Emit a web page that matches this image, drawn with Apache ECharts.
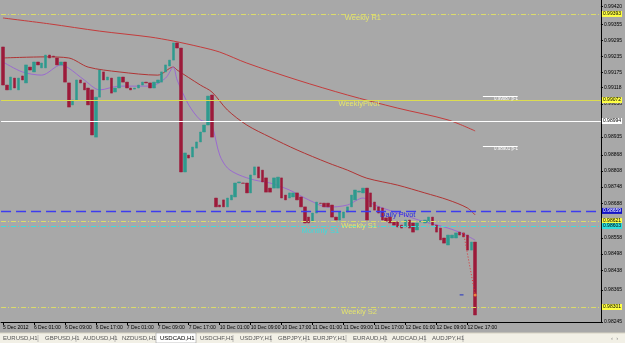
<!DOCTYPE html>
<html><head><meta charset="utf-8">
<script src="https://cdn.jsdelivr.net/npm/echarts@6/dist/echarts.min.js"></script>
<style>html,body{margin:0;padding:0;background:#A8A8A8;overflow:hidden}#c{width:625px;height:343px}</style>
</head><body><div id="c"></div>
<script>
// ---- data (USDCAD, H1) ----
const dayNames = ["5 Dec","6 Dec","7 Dec","10 Dec","11 Dec","12 Dec","13 Dec","14 Dec"];
const firstHour = 17;
const categoryCount = 155;
const openP = [0.99270,0.99128,0.99110,0.99154,0.99110,0.99162,0.99136,0.99195,0.99177,0.99214,
0.99192,0.99192,0.99240,0.99236,0.99229,0.99203,0.99214,0.99136,0.99054,0.99072,
0.99147,0.99136,0.99117,0.99110,0.98934,0.99083,0.99177,0.99147,0.99154,0.99102,
0.99117,0.99158,0.99139,0.99117,0.99113,0.99117,0.99128,0.99139,0.99136,0.99117,
0.99136,0.99139,0.99177,0.99199,0.99221,0.99285,0.99266,0.98804,0.98867,0.98860,
0.98893,0.98916,0.98953,0.98979,0.99091,0.98707,0.98681,0.98700,0.98674,0.98700,
0.98711,0.98763,0.98763,0.98763,0.98726,0.98793,0.98823,0.98811,0.98782,0.98744,
0.98744,0.98744,0.98782,0.98718,0.98707,0.98711,0.98726,0.98711,0.98674,0.98636,
0.98618,0.98651,0.98688,0.98688,0.98688,0.98681,0.98636,0.98625,0.98633,0.98655,
0.98674,0.98700,0.98729,0.98726,0.98744,0.98726,0.98692,0.98674,0.98670,0.98633,
0.98636,0.98618,0.98618,0.98606,0.98599,0.98625,0.98614,0.98588,0.98618,0.98614,
0.98618,0.98636,0.98606,0.98595,0.98558,0.98532,0.98558,0.98558,0.98580,0.98577,
0.98569,0.98513,0.98543];
const closeP = [0.99128,0.99110,0.99158,0.99117,0.99154,0.99147,0.99203,0.99184,0.99214,0.99203,
0.99210,0.99240,0.99229,0.99233,0.99203,0.99214,0.99139,0.99046,0.99072,0.99147,
0.99136,0.99110,0.99054,0.98942,0.99083,0.99184,0.99147,0.99158,0.99098,0.99117,
0.99158,0.99139,0.99117,0.99110,0.99117,0.99128,0.99139,0.99136,0.99117,0.99139,
0.99147,0.99177,0.99203,0.99221,0.99285,0.99266,0.98804,0.98875,0.98856,0.98897,
0.98916,0.98953,0.98979,0.99087,0.98934,0.98674,0.98674,0.98674,0.98707,0.98718,
0.98763,0.98767,0.98762,0.98726,0.98793,0.98823,0.98782,0.98767,0.98729,0.98729,
0.98782,0.98785,0.98707,0.98700,0.98726,0.98726,0.98700,0.98674,0.98614,0.98614,
0.98651,0.98692,0.98687,0.98674,0.98674,0.98636,0.98625,0.98655,0.98655,0.98674,
0.98718,0.98737,0.98733,0.98744,0.98625,0.98674,0.98662,0.98651,0.98625,0.98621,
0.98614,0.98606,0.98599,0.98595,0.98625,0.98595,0.98580,0.98614,0.98621,0.98625,
0.98636,0.98606,0.98580,0.98551,0.98539,0.98569,0.98569,0.98577,0.98569,0.98562,
0.98513,0.98543,0.98271];
const highP = [0.99315,0.99147,0.99165,0.99162,0.99162,0.99177,0.99221,0.99206,0.99229,0.99229,
0.99221,0.99266,0.99259,0.99251,0.99251,0.99251,0.99247,0.99147,0.99080,0.99165,
0.99165,0.99147,0.99128,0.99117,0.99091,0.99192,0.99184,0.99165,0.99162,0.99124,
0.99173,0.99165,0.99147,0.99124,0.99124,0.99136,0.99147,0.99147,0.99143,0.99147,
0.99154,0.99184,0.99214,0.99240,0.99326,0.99333,0.99277,0.98905,0.98886,0.98949,
0.98931,0.98968,0.98990,0.99098,0.99098,0.98726,0.98700,0.98707,0.98715,0.98726,
0.98793,0.98774,0.98782,0.98800,0.98804,0.98867,0.98875,0.98830,0.98789,0.98752,
0.98789,0.98849,0.98789,0.98726,0.98733,0.98733,0.98733,0.98718,0.98681,0.98644,
0.98659,0.98700,0.98700,0.98696,0.98696,0.98688,0.98644,0.98662,0.98662,0.98793,
0.98800,0.98744,0.98744,0.98756,0.98752,0.98733,0.98700,0.98681,0.98677,0.98640,
0.98644,0.98625,0.98625,0.98614,0.98633,0.98633,0.98621,0.98621,0.98629,0.98633,
0.98644,0.98644,0.98614,0.98603,0.98565,0.98577,0.98577,0.98618,0.98618,0.98584,
0.98577,0.98569,0.98551];
const lowP = [0.99117,0.99102,0.99102,0.99110,0.99080,0.99132,0.99128,0.99173,0.99169,0.99195,
0.99184,0.99184,0.99221,0.99221,0.99195,0.99195,0.99136,0.99042,0.99042,0.99065,
0.99124,0.99102,0.99016,0.98923,0.98923,0.99076,0.99139,0.99139,0.99091,0.99095,
0.98979,0.99132,0.99110,0.99102,0.99106,0.99110,0.99121,0.99128,0.99110,0.99110,
0.99128,0.99132,0.99169,0.99192,0.99214,0.99259,0.98763,0.98763,0.98841,0.98823,
0.98886,0.98905,0.98942,0.98972,0.98856,0.98644,0.98666,0.98666,0.98666,0.98692,
0.98703,0.98756,0.98756,0.98718,0.98718,0.98718,0.98774,0.98759,0.98722,0.98722,
0.98737,0.98662,0.98700,0.98692,0.98700,0.98703,0.98692,0.98666,0.98599,0.98606,
0.98610,0.98644,0.98677,0.98666,0.98666,0.98629,0.98618,0.98618,0.98625,0.98647,
0.98666,0.98692,0.98722,0.98718,0.98577,0.98666,0.98655,0.98644,0.98618,0.98614,
0.98606,0.98599,0.98592,0.98588,0.98592,0.98588,0.98573,0.98580,0.98614,0.98606,
0.98610,0.98599,0.98573,0.98543,0.98532,0.98524,0.98551,0.98551,0.98562,0.98554,
0.98506,0.98506,0.98260];
// moving averages: vertices [bar index, price]
const maSlow = [[0,0.99378],[12,0.99356],[25,0.99329],[38,0.99307],[44,0.99292],[51,0.99270],[56,0.99251],[63,0.99210],[76,0.99147],[89,0.99091],[102,0.99042],[115,0.98998],[122,0.98957]];
const maMid = [[0,0.99229],[11,0.99233],[17,0.99229],[22,0.99195],[30,0.99177],[40,0.99165],[44,0.99195],[45,0.99184],[51,0.99128],[54,0.99102],[58,0.99035],[63,0.98979],[69,0.98934],[76,0.98886],[84,0.98838],[89,0.98811],[94,0.98781],[102,0.98755],[109,0.98726],[115,0.98700],[120,0.98670],[122,0.98644]];
const maFast = [[0,0.99214],[5,0.99177],[10,0.99165],[15,0.99203],[17,0.99191],[21,0.99147],[25,0.99110],[30,0.99124],[38,0.99124],[42,0.99154],[44,0.99195],[45,0.99147],[48,0.99054],[51,0.98998],[53,0.98990],[54,0.98979],[56,0.98867],[58,0.98819],[61,0.98793],[65,0.98774],[69,0.98763],[74,0.98737],[79,0.98700],[84,0.98673],[89,0.98681],[93,0.98707],[96,0.98681],[102,0.98651],[109,0.98618],[115,0.98595],[119,0.98573],[122,0.98550]];
const tradeLine = [[119,0.98577],[122,0.98346]];
const orderDash = [[118,0.98346],[119,0.98346]];
// levels
const weeklyR1 = 0.99393, weeklyPivot = 0.99072, whiteLevel = 0.98994, dailyPivot = 0.98659,
      weeklyS1 = 0.98621, monthlyS1 = 0.98603, weeklyS2 = 0.98301, lastPrice = 0.98271;
const noteLevels = [0.99087, 0.98901];
const noteTexts = ["0.99087 p-1", "0.98901 p-1"];
// axis
const yMin = 0.98245, yMax = 0.99445;
const yTickLabels = [0.99420,0.99355,0.99295,0.99235,0.99175,0.99118,0.99058,0.98995,0.98935,0.98868,0.98808,0.98748,0.98688,0.98558,0.98498,0.98438,0.98365,0.98245];
const timeLabelEvery = 8, lastTimeLabel = 120;
const tabs = ["EURUSD,H1","GBPUSD,H1","AUDUSD,H1","NZDUSD,H1","USDCAD,H1","USDCHF,H1","USDJPY,H1","GBPJPY,H1","EURJPY,H1","EURAUD,H1","AUDCAD,H1","AUDJPY,H1"];
const tabX = [3,45,83,122,160,200,240,278,313,353,392,432];
const activeTab = 4;

// ---- build ----
const categories = [];
{ let d = 0, h = firstHour;
  for (let k = 0; k < categoryCount; k++) {
    categories.push(dayNames[d] + " " + String(h).padStart(2, "0") + ":00");
    h++; if (h === 24) { h = 0; d++; }
  } }
const bodies = openP.map((o, i) => [o, closeP[i], Math.min(o, closeP[i]), Math.max(o, closeP[i])]);
const wicks = openP.map((o, i) => [lowP[i], highP[i], lowP[i], highP[i]]);
const FONT = "Liberation Sans";
function tag(bg, fg) {
  return { show: true, position: "end", distance: 1, formatter: p => Number(p.value).toFixed(5),
    backgroundColor: bg, color: fg, fontSize: 5, fontFamily: FONT, padding: [1, 1, 0, 1] };
}
const DASHDOT = [5, 2, 1, 2];
const chart = echarts.init(document.getElementById("c"), null, { renderer: "canvas" });
const tickShow = (i) => i % timeLabelEvery === 0 && i <= lastTimeLabel;
function note(i, p, text, color, size) {
  return { coord: [i, p], symbol: "rect", symbolSize: 1, itemStyle: { color: "rgba(0,0,0,0)" },
    label: { show: true, position: "inside", formatter: text, color: color, fontSize: size || 7.5, fontFamily: FONT } };
}
const levelLines = [
  { yAxis: weeklyR1, lineStyle: { color: "#DCDC6A", type: DASHDOT, width: 1 }, label: tag("#FFFF44", "#000") },
  { yAxis: weeklyPivot, lineStyle: { color: "#DCDC50", type: "solid", width: 1 }, label: tag("#FFFF44", "#000") },
  { yAxis: whiteLevel, lineStyle: { color: "#FFFFFF", type: "solid", width: 1 }, label: tag("#FFFFFF", "#000") },
  { yAxis: dailyPivot, lineStyle: { color: "#3C3CF0", type: [10, 5], width: 1.3, opacity: 1 }, label: tag("#1414C8", "#FFF") },
  { yAxis: weeklyS1, lineStyle: { color: "#DCDC6A", type: DASHDOT, width: 1 }, label: tag("#FFFF44", "#000") },
  { yAxis: monthlyS1, lineStyle: { color: "#40DCDC", type: DASHDOT, width: 1 }, label: tag("#30E0E0", "#000") },
  { yAxis: weeklyS2, lineStyle: { color: "#DCDC6A", type: DASHDOT, width: 1 }, label: tag("#FFFF44", "#000") },
  { yAxis: lastPrice, lineStyle: { color: "#000", width: 0, opacity: 0 }, label: tag("#000000", "#FFF") },
  [ { coord: [124, noteLevels[0]], lineStyle: { color: "#FFF", width: 1, type: "solid" }, label: { show: false } }, { coord: [133, noteLevels[0]] } ],
  [ { coord: [124, noteLevels[1]], lineStyle: { color: "#FFF", width: 1, type: "solid" }, label: { show: false } }, { coord: [133, noteLevels[1]] } ]
];
chart.setOption({
  animation: false,
  backgroundColor: "#A8A8A8",
  grid: { left: 0, right: 19, top: 0, bottom: 21 },
  xAxis: {
    type: "category", data: categories, boundaryGap: true,
    axisLine: { show: true, lineStyle: { color: "#000", width: 1 } },
    axisTick: { show: true, interval: (i) => tickShow(i), alignWithLabel: true, length: 3, lineStyle: { color: "#000" } },
    axisLabel: { interval: (i) => tickShow(i), align: "left", margin: 3, fontSize: 5, fontFamily: FONT, color: "#000",
      formatter: (v, i) => i === 0 ? "5 Dec 2012" : v },
    splitLine: { show: false }
  },
  yAxis: {
    type: "value", position: "right", min: yMin, max: yMax, scale: true,
    axisLine: { show: true, lineStyle: { color: "#000", width: 1 } },
    axisTick: { show: true, customValues: yTickLabels, length: 2, lineStyle: { color: "#000" } },
    axisLabel: { customValues: yTickLabels, formatter: v => v.toFixed(5), fontSize: 5, fontFamily: FONT, color: "#000", margin: 3 },
    splitLine: { show: false }
  },
  series: [
    { type: "line", data: maSlow, symbol: "none", smooth: 0.3, lineStyle: { color: "#C43C3C", width: 1 }, z: 2,
      markLine: { silent: true, symbol: ["none", "none"], animation: false, precision: 5, data: levelLines },
      markPoint: {
        silent: true, animation: false,
        data: [
          note(92.8, 0.99378, "Weekly R1", "#E4E46E"),
          note(91.8, 0.99057, "WeeklyPivot", "#E4E46E"),
          note(102, 0.98644, "Daily Pivot", "#2A2AE0"),
          note(91.6, 0.98603, "Weekly S1", "#E4E46E"),
          note(81.6, 0.98584, "Monthly S1", "#3CDCDC"),
          note(91.8, 0.98282, "Weekly S2", "#E4E46E"),
          note(130, noteLevels[0] - 0.0001, noteTexts[0], "#FFF", 4.5),
          note(130, noteLevels[1] - 0.0001, noteTexts[1], "#FFF", 4.5)
        ]
      }
    },
    { type: "line", data: maMid, symbol: "none", smooth: 0.3, lineStyle: { color: "#B03434", width: 1 }, z: 2 },
    { type: "line", data: maFast, symbol: "none", smooth: 0.3, lineStyle: { color: "#9A6AD0", width: 1 }, z: 2 },
    { type: "candlestick", data: wicks, barWidth: 1, z: 3,
      itemStyle: { color: "#383838", color0: "#383838", borderColor: "#383838", borderColor0: "#383838", borderWidth: 0 } },
    { type: "candlestick", data: bodies, barWidth: 3, z: 4,
      itemStyle: { color: "#2E9A8E", color0: "#9C1A3A", borderColor: "#2E9A8E", borderColor0: "#9C1A3A", borderWidth: 0.5 } },
    { type: "line", data: tradeLine, symbol: "none", lineStyle: { color: "#E03030", width: 1, type: [1, 2] }, z: 5 },
    { type: "scatter", data: [tradeLine[1]], symbol: "circle", symbolSize: 3, itemStyle: { color: "#FFA040" }, z: 6 },
    { type: "line", data: orderDash, symbol: "none", lineStyle: { color: "#2030C0", width: 1 }, z: 5 }
  ],
  graphic: [
    { type: "rect", shape: { x: 0, y: 333, width: 625, height: 10 }, style: { fill: "#F2F0E6" }, z: 10 },
    { type: "line", shape: { x1: 0, y1: 333, x2: 625, y2: 333 }, style: { stroke: "#D8D4C4", lineWidth: 1 }, z: 11 },
    { type: "rect", shape: { x: 156, y: 333, width: 40, height: 10 }, style: { fill: "#FFFFFF", stroke: "#888", lineWidth: 0.5 }, z: 11 }
  ].concat(tabs.map((t, k) => ({ type: "text", x: tabX[k], y: 335, z: 12,
      style: { text: t, fontSize: 6, fontFamily: FONT, fill: k === activeTab ? "#000" : "#555" } })))
   .concat(tabX.slice(1).map((x, k) => (k + 1 === activeTab || k + 1 === activeTab + 1) ? null :
      ({ type: "line", shape: { x1: x - 7, y1: 335, x2: x - 7, y2: 342 }, style: { stroke: "#999", lineWidth: 0.6 }, z: 12 })).filter(Boolean))
   .concat([{ type: "line", shape: { x1: 463, y1: 335, x2: 463, y2: 342 }, style: { stroke: "#999", lineWidth: 0.6 }, z: 12 },
     { type: "text", x: 611, y: 335, z: 12, style: { text: "‹  ›", fontSize: 6, fontFamily: FONT, fill: "#888" } }])
});
</script>
</body></html>
